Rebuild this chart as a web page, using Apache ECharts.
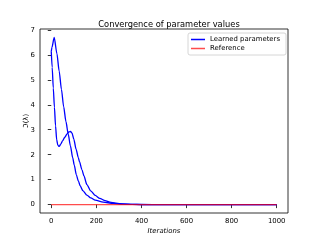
<!DOCTYPE html>
<html><head><meta charset="utf-8">
<script src="https://cdn.jsdelivr.net/npm/echarts@6/dist/echarts.min.js"></script>
<style>html,body{margin:0;padding:0;background:#fff}#c{width:320px;height:240px}</style>
</head><body><div id="c"></div>
<script>
var titleText = 'Convergence of parameter values';
var xTicks = [0, 200, 400, 600, 800, 1000];
var yTicks = [0, 1, 2, 3, 4, 5, 6, 7];
var paramAIter = [0, 3, 13, 25, 35, 45, 55, 65, 75, 85, 95, 102, 111, 120, 128, 140, 158, 175, 195, 230, 275, 320, 400, 500, 600, 800, 1000];
var paramAVal  = [6.13, 6.3, 6.7, 6.05, 5.35, 4.62, 3.92, 3.33, 2.83, 2.35, 1.88, 1.58, 1.2, 0.95, 0.76, 0.56, 0.38, 0.27, 0.18, 0.1, 0.05, 0.022, 0.005, 0.001, 0, 0, 0];
var paramBIter = [0, 4, 9, 14, 19, 24, 29, 35, 42, 50, 60, 70, 78, 85, 92, 100, 110, 120, 125, 136, 145, 158, 175, 195, 215, 239, 260, 285, 320, 360, 400, 500, 600, 800, 1000];
var paramBVal  = [6.13, 5.5, 4.67, 3.9, 3.15, 2.6, 2.38, 2.33, 2.42, 2.55, 2.7, 2.83, 2.91, 2.93, 2.87, 2.62, 2.22, 1.88, 1.72, 1.4, 1.15, 0.8, 0.55, 0.37, 0.25, 0.16, 0.1, 0.06, 0.028, 0.011, 0.004, 0.001, 0, 0, 0];
var refIter = [0, 1000];
var refVal = [0, 0];

function zip(a, b) { return a.map(function (v, i) { return [v, b[i]]; }); }

var font = 'DejaVu Sans';
var chart = echarts.init(document.getElementById('c'), null, {renderer: 'canvas'});
chart.setOption({
  animation: false,
  title: {text: titleText, left: 164, top: 16, textAlign: 'center',
    textStyle: {fontFamily: font, fontSize: 8.3, fontWeight: 'normal', color: '#000'}},
  grid: {left: 40, top: 29, width: 248, height: 184, show: true, borderColor: '#000', borderWidth: 0.8, backgroundColor: 'transparent'},
  legend: {
    orient: 'vertical', left: 188, top: 33,
    data: [{name: 'Learned parameters'}, {name: 'Reference'}],
    icon: 'rect', itemWidth: 14, itemHeight: 1.5, itemGap: 2,
    padding: [3, 6, 3, 3],
    borderColor: '#cccccc', borderWidth: 0.8, borderRadius: 2, backgroundColor: '#fff',
    textStyle: {fontFamily: font, fontSize: 6.9, color: '#000', padding: [0, 0, 0, 0]}
  },
  xAxis: {
    type: 'value', min: -50, max: 1050,
    name: 'Iterations', nameLocation: 'middle', nameGap: 15, nameMoveOverlap: false,
    nameTextStyle: {fontFamily: font, fontSize: 6.9, fontStyle: 'italic', color: '#000'},
    axisLine: {show: false},
    splitLine: {show: false},
    axisTick: {show: true, length: 3.5, inside: false, customValues: xTicks, lineStyle: {color: '#000', width: 0.8}},
    axisLabel: {customValues: xTicks, margin: 5, fontFamily: font, fontSize: 6.9, color: '#000',
      formatter: function (v) { return String(v); }}
  },
  yAxis: {
    type: 'value', min: -0.335, max: 7.035,
    name: 'ℑ(λ)', nameLocation: 'middle', nameRotate: 90, nameGap: 10, nameMoveOverlap: false,
    nameTextStyle: {fontFamily: font, fontSize: 6.9, color: '#000'},
    axisLine: {show: false},
    splitLine: {show: false},
    axisTick: {show: true, length: 3.5, inside: false, customValues: yTicks, lineStyle: {color: '#000', width: 0.8}},
    axisLabel: {customValues: yTicks, margin: 5, fontFamily: font, fontSize: 6.9, color: '#000',
      formatter: function (v) { return String(v); }}
  },
  series: [
    {name: 'Learned parameters', type: 'line', data: zip(paramAIter, paramAVal), smooth: 0.25, smoothMonotone: 'x', showSymbol: false,
      color: '#0000ff', lineStyle: {width: 1.3, color: '#0000ff'}},
    {name: 'Learned parameters', type: 'line', data: zip(paramBIter, paramBVal), smooth: 0.25, smoothMonotone: 'x', showSymbol: false,
      color: '#0000ff', lineStyle: {width: 1.3, color: '#0000ff'}},
    {name: 'Reference', type: 'line', data: zip(refIter, refVal), showSymbol: false,
      color: 'rgba(255,0,0,0.7)', lineStyle: {width: 1.4, color: 'rgba(255,0,0,0.7)'}, z: 3}
  ]
});
</script></body></html>
